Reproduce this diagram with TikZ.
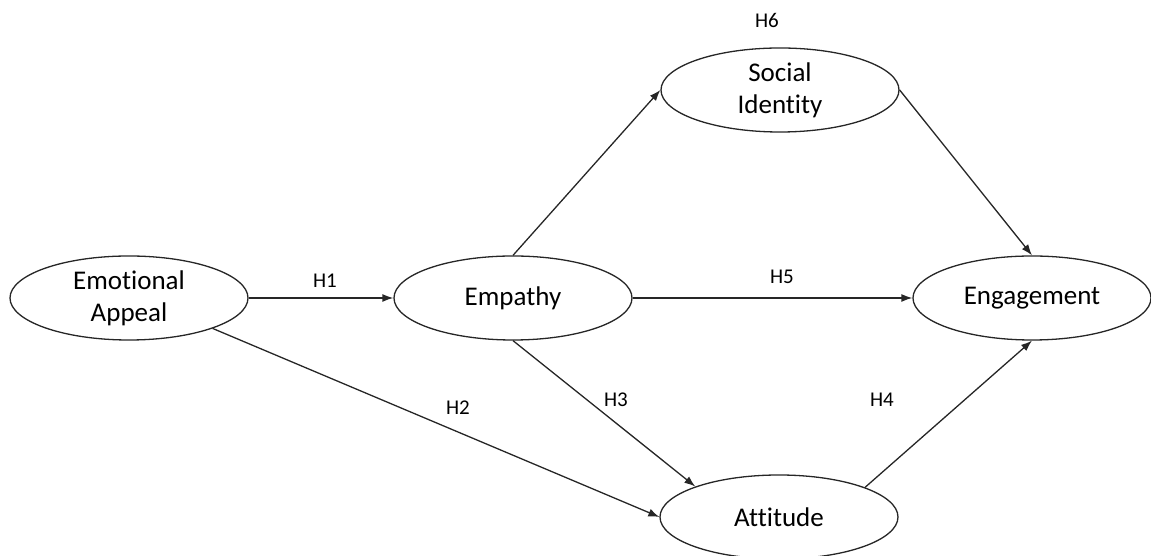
\documentclass[tikz,border=0pt]{standalone}
\usepackage{fontspec}
\setmainfont{Carlito}[Ligatures=NoCommon]
\usetikzlibrary{shapes.geometric,arrows.meta}

\begin{document}
\begin{tikzpicture}[x=1pt,y=1pt,
  construct/.style={draw=black!85,line width=1.3pt,ellipse,minimum width=238pt,minimum height=84pt,inner sep=0pt,align=center,font=\fontsize{27}{32}\selectfont},
  path/.style={draw=black!85,line width=1.3pt,-{Latex[length=11pt,width=8pt]}},
  hyp/.style={font=\fontsize{21}{24}\selectfont}]
\useasboundingbox (0,0) rectangle (1151,556);
% constructs
\node[construct] (ea) at (129,258) {Emotional\\Appeal};
\node[construct] (emp) at (513,258) {Empathy};
\node[construct] (soc) at (780,466) {Social\\Identity};
\node[construct] (eng) at (1032,258) {Engagement};
\node[construct] (att) at (779,39) {Attitude};
% paths
\draw[path] (ea.east) -- (emp.west);
\draw[path] (ea.-20) -- (att.west);
\draw[path] (emp.north) -- (soc.west);
\draw[path] (emp.east) -- (eng.west);
\draw[path] (emp.south) -- (att.160);
\draw[path] (soc.east) -- (eng.north);
\draw[path] (att.19) -- (eng.south);
% hypotheses
\node[hyp] (h1) at (325,275) {H1};
\node[hyp] (h2) at (458,148) {H2};
\node[hyp] (h3) at (616,156) {H3};
\node[hyp] (h4) at (882,156) {H4};
\node[hyp] (h5) at (782,279) {H5};
\node[hyp] (h6) at (767,536) {H6};
\end{tikzpicture}
\end{document}
